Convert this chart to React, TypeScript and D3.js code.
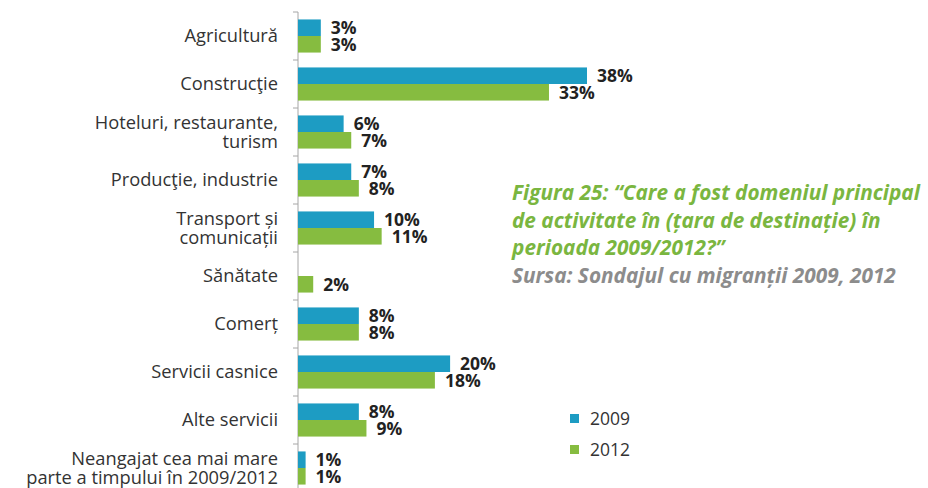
import React from 'react';
import * as d3 from 'd3';

const categories = [
  ['Agricultură'],
  ['Construcţie'],
  ['Hoteluri, restaurante,', 'turism'],
  ['Producţie, industrie'],
  ['Transport și', 'comunicații'],
  ['Sănătate'],
  ['Comerț'],
  ['Servicii casnice'],
  ['Alte servicii'],
  ['Neangajat cea mai mare', 'parte a timpului în 2009/2012'],
];
const values2009 = [3, 38, 6, 7, 10, null, 8, 20, 8, 1];
const values2012 = [3, 33, 7, 8, 11, 2, 8, 18, 9, 1];
const seriesNames = ['2009', '2012'];
const titleLines = [
  'Figura 25: “Care a fost domeniul principal',
  'de activitate în (țara de destinație) în',
  'perioada 2009/2012?”',
];
const sourceLine = 'Sursa: Sondajul cu migranții 2009, 2012';

const BLUE = '#1d9cc3';
const GREEN = '#86bc40';
const FONT = '"Open Sans", "Liberation Sans", sans-serif';

export default function App() {
  const width = 928;
  const height = 488;
  const x0 = 298;
  const top = 12;
  const band = 48;

  const x = d3.scaleLinear().domain([0, 38]).range([x0, 587]);
  const y = d3
    .scaleBand<number>()
    .domain(d3.range(categories.length))
    .range([top, top + band * categories.length])
    .paddingInner(0.31)
    .paddingOuter(0.155);
  const sub = d3.scaleBand<number>().domain([0, 1]).range([0, y.bandwidth()]);

  const series = [values2009, values2012];
  const colors = [BLUE, GREEN];

  return (
    <svg
      width={width}
      height={height}
      style={{ position: 'absolute', left: 0, top: 0, background: '#fff' }}
      fontFamily={FONT}
    >
      {/* axis */}
      <line x1={x0} x2={x0} y1={top} y2={height} stroke="#a6a6a6" strokeWidth={1} />
      {d3.range(categories.length + 1).map((i) => (
        <line
          key={'t' + i}
          x1={x0 - 5}
          x2={x0}
          y1={top + i * band}
          y2={top + i * band}
          stroke="#a6a6a6"
          strokeWidth={1}
        />
      ))}

      {/* category labels */}
      {categories.map((lines, i) => {
        const cy = (y(i) ?? 0) + y.bandwidth() / 2;
        const lh = 19.5;
        return (
          <text
            key={'c' + i}
            x={278}
            textAnchor="end"
            fontSize={18.3}
            fill="#333"
          >
            {lines.map((l, j) => (
              <tspan key={j} x={278} y={cy + (j - (lines.length - 1) / 2) * lh} dy="0.35em">
                {l}
              </tspan>
            ))}
          </text>
        );
      })}

      {/* bars */}
      {series.map((vals, s) =>
        vals.map((v, i) => {
          if (v == null) return null;
          const by = (y(i) ?? 0) + (sub(s) ?? 0);
          return (
            <g key={s + '-' + i}>
              <rect x={x0} y={by} width={x(v) - x0} height={sub.bandwidth()} fill={colors[s]} />
              <text
                x={x(v) + 10}
                y={by + sub.bandwidth() / 2}
                dy="0.36em"
                fontSize={17.5}
                fontWeight="bold"
                fill="#222"
              >
                {v}%
              </text>
            </g>
          );
        })
      )}

      {/* title */}
      {titleLines.map((t, i) => (
        <text
          key={'ti' + i}
          x={512}
          y={200 + i * 27.5}
          fontSize={20.8}
          fontWeight="bold"
          fontStyle="italic"
          fill="#7ab640"
        >
          {t}
        </text>
      ))}
      <text x={512} y={282.5} fontSize={20.8} fontWeight="bold" fontStyle="italic" fill="#8c8c8c">
        {sourceLine}
      </text>

      {/* legend */}
      {seriesNames.map((n, i) => (
        <g key={'l' + i} transform={`translate(570, ${419 + i * 31})`}>
          <rect x={0} y={-5} width={9} height={9} fill={colors[i]} />
          <text x={20} y={0} dy="0.35em" fontSize={17.5} fill="#333">
            {n}
          </text>
        </g>
      ))}
    </svg>
  );
}
